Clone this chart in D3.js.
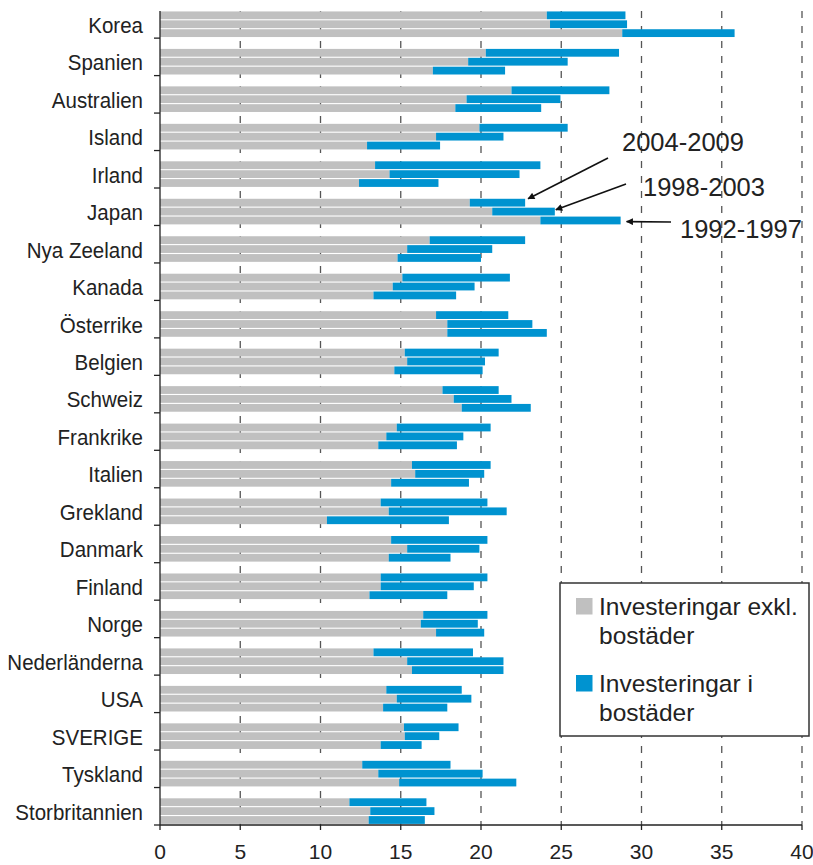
<!DOCTYPE html>
<html><head><meta charset="utf-8">
<script src="https://cdn.jsdelivr.net/npm/d3@7"></script>
<style>
html,body{margin:0;padding:0;background:#fff;}
svg{display:block;font-family:"Liberation Sans",Arial,sans-serif;}
</style></head>
<body>
<svg id="chart" width="813" height="865"></svg>
<script>
const countries = ["Korea","Spanien","Australien","Island","Irland","Japan","Nya Zeeland","Kanada","Österrike","Belgien","Schweiz","Frankrike","Italien","Grekland","Danmark","Finland","Norge","Nederländerna","USA","SVERIGE","Tyskland","Storbritannien"];
const periods = ["2004-2009","1998-2003","1992-1997"];
const seriesNames = ["Investeringar exkl. bostäder","Investeringar i bostäder"];
// investments excluding housing, % of GDP
const exclHousing2004 = [24.1,20.3,21.9,19.9,13.4,19.3,16.8,15.1,17.2,15.25,17.6,14.75,15.7,13.75,14.4,13.75,16.4,13.3,14.1,15.2,12.6,11.8];
const exclHousing1998 = [24.3,19.2,19.1,17.2,14.3,20.7,15.4,14.5,17.9,15.4,18.3,14.1,15.9,14.25,15.4,13.75,16.25,15.4,14.75,15.25,13.6,13.1];
const exclHousing1992 = [28.8,17.0,18.4,12.9,12.4,23.7,14.8,13.3,17.9,14.6,18.8,13.6,14.4,10.4,14.25,13.05,17.2,15.7,13.9,13.75,14.9,13.0];
// housing investments, % of GDP
const housing2004 = [4.9,8.3,6.1,5.5,10.3,3.45,5.95,6.7,4.5,5.85,3.5,5.85,4.9,6.65,6.0,6.65,4.0,6.2,4.7,3.4,5.5,4.8];
const housing1998 = [4.8,6.2,5.85,4.2,8.1,3.9,5.3,5.1,5.3,4.85,3.6,4.8,4.3,7.35,4.5,5.8,3.55,6.0,4.65,2.15,6.5,4.0];
const housing1992 = [7.0,4.5,5.35,4.55,4.95,5.0,5.2,5.15,6.2,5.5,4.3,4.9,4.85,7.6,3.85,4.85,3.0,5.7,4.0,2.55,7.3,3.5];
const xTicks = [0,5,10,15,20,25,30,35,40];

const excl = [exclHousing2004, exclHousing1998, exclHousing1992];
const hous = [housing2004, housing1998, housing1992];

const colors = ["#c0c0c0", "#0093d0"];
const svg = d3.select("#chart");

const plotLeft = 160, plotRight = 802, plotTop = 11, plotBottom = 825;
const x = d3.scaleLinear().domain([0, 40]).range([plotLeft, plotRight]);
const bandH = 37.47;
const y = d3.scaleBand().domain(countries).range([plotBottom - bandH * countries.length, plotBottom]).padding(0);
const barBlock = 26.7;
const yInner = d3.scaleBand().domain(periods).range([y.bandwidth() - barBlock, y.bandwidth()]).padding(0);

// dashed gridlines
svg.append("g").selectAll("line").data(xTicks.filter(d => d > 0)).join("line")
  .attr("x1", d => x(d)).attr("x2", d => x(d))
  .attr("y1", plotTop).attr("y2", plotBottom)
  .attr("stroke", "#555").attr("stroke-width", 1.3)
  .attr("stroke-dasharray", "7,8");

// bars
const rows = [];
countries.forEach((c, ci) => {
  periods.forEach((p, pi) => {
    rows.push({c, p, g: excl[pi][ci], h: hous[pi][ci]});
  });
});
const gBars = svg.append("g");
rows.forEach(r => {
  const yy = y(r.c) + yInner(r.p);
  const hh = yInner.bandwidth() - 1.1;
  gBars.append("rect").attr("x", x(0)).attr("y", yy)
    .attr("width", x(r.g) - x(0)).attr("height", hh).attr("fill", colors[0]);
  gBars.append("rect").attr("x", x(r.g)).attr("y", yy)
    .attr("width", x(r.g + r.h) - x(r.g)).attr("height", hh).attr("fill", colors[1]);
});

// axes
svg.append("line").attr("x1", plotLeft).attr("x2", plotLeft).attr("y1", plotTop).attr("y2", plotBottom)
  .attr("stroke", "#222").attr("stroke-width", 1.3);
svg.append("line").attr("x1", plotLeft).attr("x2", plotRight).attr("y1", plotBottom).attr("y2", plotBottom)
  .attr("stroke", "#222").attr("stroke-width", 1.3);
svg.append("g").selectAll("line").data(countries).join("line")
  .attr("x1", plotLeft - 6).attr("x2", plotLeft)
  .attr("y1", d => y(d) + y.bandwidth()).attr("y2", d => y(d) + y.bandwidth())
  .attr("stroke", "#222").attr("stroke-width", 1.3);
svg.append("g").selectAll("line").data(xTicks).join("line")
  .attr("x1", d => x(d)).attr("x2", d => x(d))
  .attr("y1", plotBottom).attr("y2", plotBottom + 5)
  .attr("stroke", "#222").attr("stroke-width", 1.3);
svg.append("g").selectAll("text").data(xTicks).join("text")
  .attr("x", d => x(d)).attr("y", 859)
  .attr("text-anchor", "middle").attr("font-size", 21).attr("fill", "#222")
  .text(d => d);

// country labels
svg.append("g").selectAll("text").data(countries).join("text")
  .attr("transform", d => `translate(143,${y(d) + y.bandwidth() - barBlock / 2 + 8}) scale(0.9,1)`)
  .attr("text-anchor", "end").attr("font-size", 22.8).attr("fill", "#222")
  .text(d => d);

// annotations with arrows
const defs = svg.append("defs");
defs.append("marker").attr("id", "arr").attr("viewBox", "0 0 10 10")
  .attr("refX", 9).attr("refY", 5).attr("markerWidth", 9).attr("markerHeight", 7)
  .attr("markerUnits", "userSpaceOnUse").attr("orient", "auto")
  .append("path").attr("d", "M0,0 L10,5 L0,10 Z").attr("fill", "#111");

const jIdx = countries.indexOf("Japan");
const ann = [
  {p: 0, tx: 622, ty: 151, lx1: 608, ly1: 158, dx: 3, dy: 0},
  {p: 1, tx: 643, ty: 196, lx1: 626, ly1: 184, dx: 1, dy: 2},
  {p: 2, tx: 680, ty: 238, lx1: 671, ly1: 222, dx: 6, dy: 5}
];
ann.forEach(a => {
  const tot = excl[a.p][jIdx] + hous[a.p][jIdx];
  const hx = x(tot) + a.dx;
  const hy = y("Japan") + yInner(periods[a.p]) + a.dy;
  svg.append("line").attr("x1", a.lx1).attr("y1", a.ly1).attr("x2", hx).attr("y2", hy)
    .attr("stroke", "#111").attr("stroke-width", 1.6).attr("marker-end", "url(#arr)");
  svg.append("text").attr("x", a.tx).attr("y", a.ty).attr("font-size", 25.5).attr("fill", "#222")
    .text(periods[a.p]);
});

// legend
const lg = svg.append("g");
lg.append("rect").attr("x", 560).attr("y", 583).attr("width", 249).attr("height", 153)
  .attr("fill", "#fff").attr("stroke", "#333").attr("stroke-width", 1.5);
const legendLines = [["Investeringar exkl.", "bostäder"], ["Investeringar i", "bostäder"]];
[0, 1].forEach(i => {
  const top = 598 + i * 77;
  lg.append("rect").attr("x", 576).attr("y", top).attr("width", 16.5).attr("height", 16.5).attr("fill", colors[i]);
  const t = lg.append("text").attr("x", 599).attr("y", top + 17).attr("font-size", 24.5).attr("fill", "#222");
  t.append("tspan").attr("x", 599).text(legendLines[i][0]);
  t.append("tspan").attr("x", 599).attr("dy", 29).text(legendLines[i][1]);
});
</script>
</body></html>
